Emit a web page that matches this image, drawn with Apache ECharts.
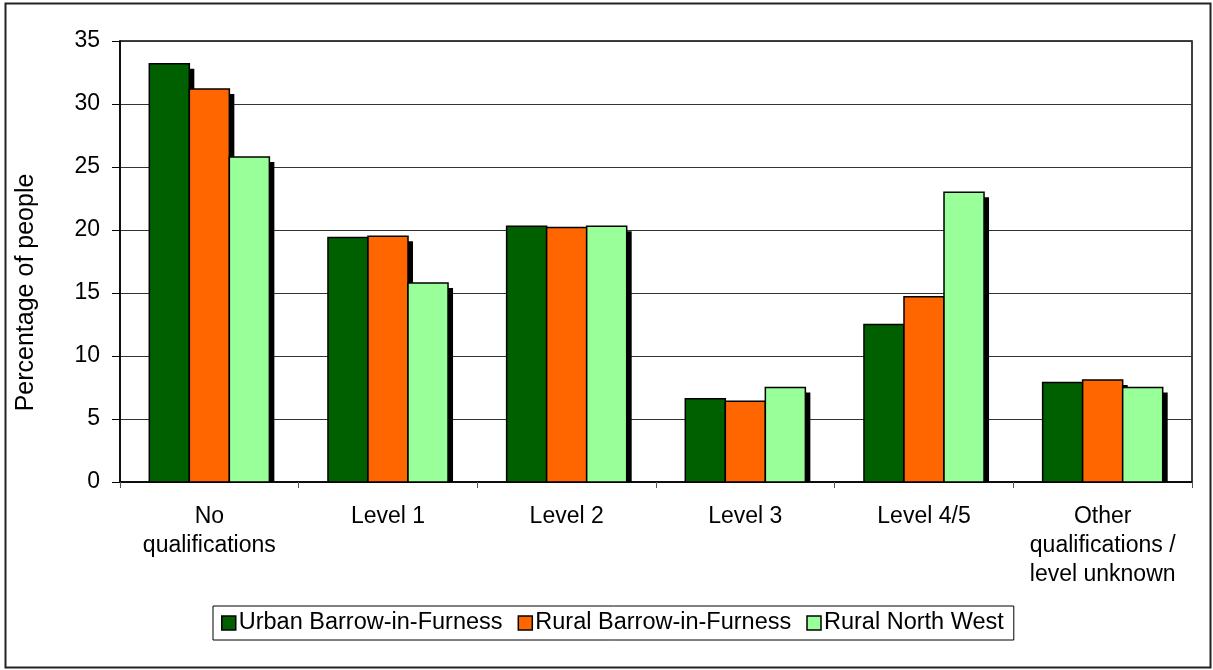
<!DOCTYPE html>
<html>
<head>
<meta charset="utf-8">
<script src="https://cdn.jsdelivr.net/npm/echarts@6/dist/echarts.min.js"></script>
<style>
html,body{margin:0;padding:0;background:#fff;}
#chart{width:1213px;height:670px;}
</style>
</head>
<body>
<div id="chart"></div>
<script>
const categories = ["No\nqualifications", "Level 1", "Level 2", "Level 3", "Level 4/5", "Other\nqualifications /\nlevel unknown"];
const seriesNames = ["Urban Barrow-in-Furness", "Rural Barrow-in-Furness", "Rural North West"];
const urbanBarrow = [33.2, 19.4, 20.3, 6.6, 12.5, 7.9];
const ruralBarrow = [31.2, 19.5, 20.2, 6.4, 14.7, 8.1];
const ruralNorthWest = [25.8, 15.8, 20.3, 7.5, 23.0, 7.5];
const yTicks = [0, 5, 10, 15, 20, 25, 30, 35];
const colors = ["#006000", "#FF6600", "#99FF99"];

const font = "Arial, 'Liberation Sans', sans-serif";
const chart = echarts.init(document.getElementById('chart'));
const dataSets = [urbanBarrow, ruralBarrow, ruralNorthWest];
const nSeries = dataSets.length;
const barFrac = 0.224;   // bar width as a fraction of the category band
const shadow = 5;

function makeRender(si) {
  return function (params, api) {
    const idx = api.value(0);
    const val = api.value(1);
    const base = api.coord([idx, 0]);
    const top = api.coord([idx, val]);
    const band = api.size([1, 0])[0];
    const bw = band * barFrac;
    const x0 = base[0] - (nSeries / 2) * bw + si * bw;
    const h = base[1] - top[1];
    return {
      type: 'group',
      children: [
        { type: 'rect', shape: { x: x0 + shadow, y: top[1] + shadow, width: bw, height: Math.max(0, h - shadow) },
          style: { fill: '#000' } },
        { type: 'rect', shape: { x: x0, y: top[1], width: bw, height: h },
          style: { fill: colors[si], stroke: '#000', lineWidth: 1.5 } }
      ]
    };
  };
}

chart.setOption({
  animation: false,
  textStyle: { fontFamily: font },
  graphic: [{
    type: 'rect', left: 3, top: 1, z: 100, silent: true,
    shape: { width: 1205, height: 664 },
    style: { fill: 'none', stroke: '#222', lineWidth: 2 }
  }],
  grid: { left: 120, top: 41, right: 21, bottom: 188, show: true, borderColor: '#000', borderWidth: 1.5, backgroundColor: 'transparent' },
  legend: {
    bottom: 30, left: 213,
    itemWidth: 14, itemHeight: 14, itemGap: 15,
    borderColor: '#000', borderWidth: 1, padding: [5, 10, 5, 8],
    textStyle: { fontSize: 23.5, color: '#000', fontFamily: font, padding: [0, 0, 0, -2] },
    itemStyle: { borderColor: '#000', borderWidth: 1.5 },
    icon: 'rect',
    data: seriesNames
  },
  xAxis: {
    type: 'category',
    data: categories,
    axisLine: { lineStyle: { color: '#000', width: 1.5 } },
    axisTick: { show: true, length: 6, lineStyle: { color: '#555' } },
    axisLabel: { fontSize: 23, color: '#000', lineHeight: 29, margin: 20, interval: 0, fontFamily: font }
  },
  yAxis: {
    type: 'value', min: 0, max: 35, interval: 5,
    name: 'Percentage of people', nameLocation: 'middle', nameGap: 81,
    nameTextStyle: { fontSize: 25, color: '#000', fontFamily: font, padding: [0, 62, 0, 0] },
    axisLine: { show: true, lineStyle: { color: '#000', width: 1.5 } },
    axisTick: { show: true, length: 8, lineStyle: { color: '#000' } },
    axisLabel: { fontSize: 23, color: '#000', margin: 20, fontFamily: font,
      formatter: v => yTicks.includes(v) ? String(v) : '' },
    splitLine: { show: true, lineStyle: { color: '#333', width: 1 } }
  },
  series: dataSets.map((d, i) => ({
    name: seriesNames[i],
    type: 'custom',
    renderItem: makeRender(i),
    encode: { x: 0, y: 1 },
    itemStyle: { color: colors[i] },
    data: d.map((v, j) => [j, v])
  }))
});
</script>
</body>
</html>
